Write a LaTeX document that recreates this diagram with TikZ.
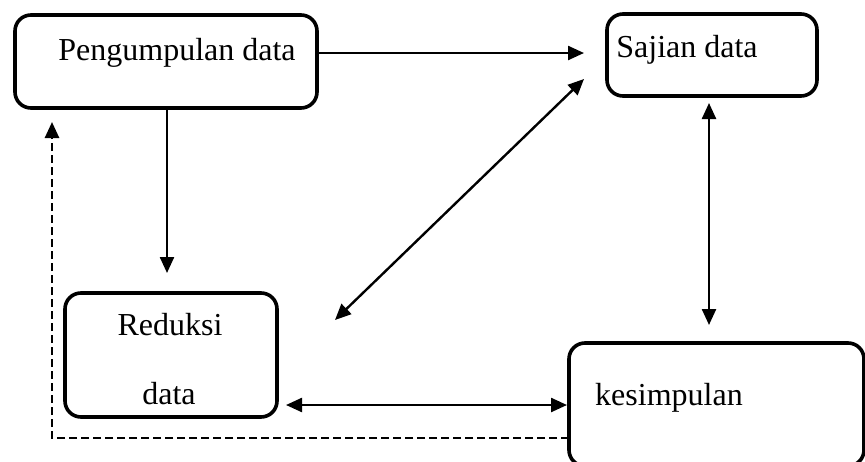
\documentclass[tikz,border=0pt]{standalone}
\usepackage{fontspec}
\setmainfont{Liberation Serif}
\usetikzlibrary{arrows.meta}
\begin{document}
\begin{tikzpicture}[x=1pt,y=-1pt,
  box/.style={draw,line width=3.6pt,rounded corners=16pt,inner sep=0pt,outer sep=0pt},
  lbl/.style={anchor=base,inner sep=0pt,font=\fontsize{32}{38}\selectfont},
  arr/.style={line width=2.4pt,-{Triangle[length=16pt,width=14pt]}},
  darr/.style={line width=2.4pt,{Triangle[length=16pt,width=14pt]}-{Triangle[length=16pt,width=14pt]}},
  dasharr/.style={line width=2.6pt,dash pattern=on 8pt off 4pt,-{Triangle[length=16pt,width=14pt]}}]
\useasboundingbox (0,0) rectangle (865,461);
% boxes
\node[box,minimum width=302pt,minimum height=93pt] (b1) at (166,61.5) {};
\node[box,minimum width=210pt,minimum height=82pt] (b2) at (712,55) {};
\node[box,minimum width=212pt,minimum height=124pt] (b3) at (171,355) {};
\node[box,minimum width=295pt,minimum height=123pt] (b4) at (716.5,404.5) {};
% labels
\node[lbl] (t1) at (177,60) {Pengumpulan data};
\node[lbl] (t2) at (687,57) {Sajian data};
\node[lbl] (t3a) at (170,335) {Reduksi};
\node[lbl] (t3b) at (169,404) {data};
\node[lbl] (t4) at (669,405) {kesimpulan};
% arrow end points
\coordinate (p1) at (584,53);
\coordinate (p2a) at (584,79);
\coordinate (p2b) at (335,320);
\coordinate (p3) at (167,273);
\coordinate (p4a) at (709,103);
\coordinate (p4b) at (709,325);
\coordinate (p5a) at (286,405);
\coordinate (p5b) at (567,405);
\coordinate (p6c) at (52,438);
\coordinate (p6e) at (52,122);
% connectors
\draw[arr] (b1.east |- p1) -- (p1);
\draw[arr] (b1.south -| p3) -- (p3);
\draw[darr] (p2b) -- (p2a);
\draw[darr] (p4a) -- (p4b);
\draw[darr] (p5a) -- (p5b);
\draw[dasharr] (b4.west |- p6c) -- (p6c) -- (p6e);
\end{tikzpicture}
\end{document}
